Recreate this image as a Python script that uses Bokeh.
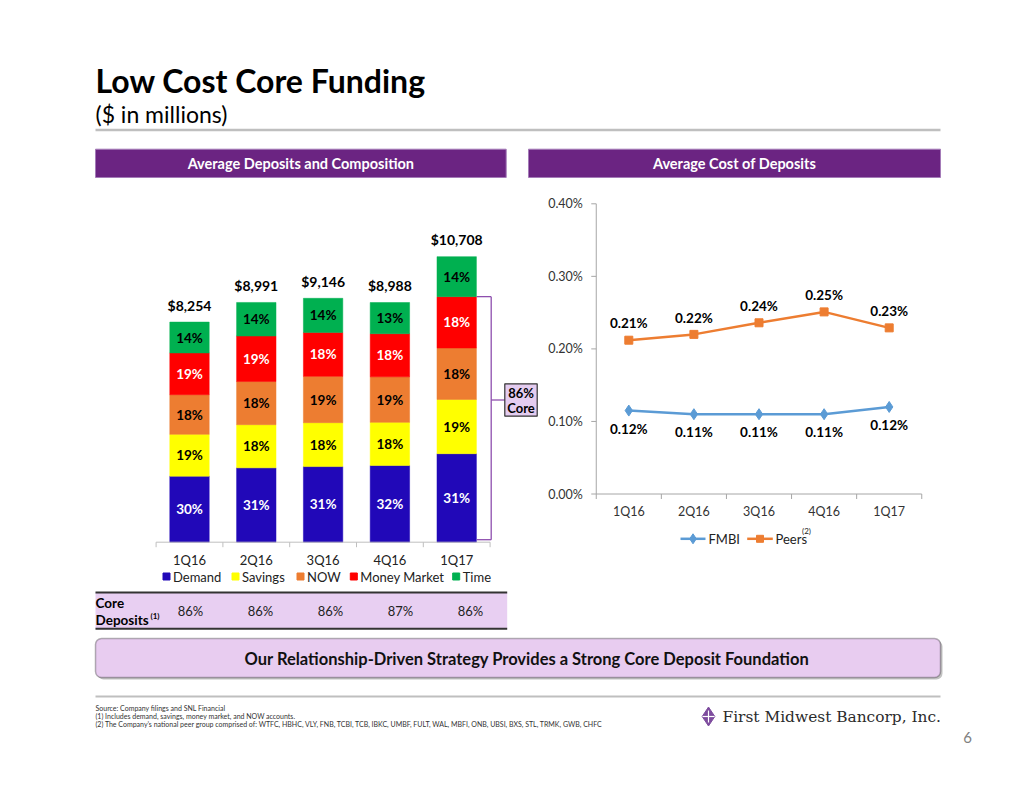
import numpy as np
from bokeh.plotting import figure
from bokeh.models import Range1d, ColumnDataSource, BoxAnnotation
from bokeh.core.properties import value
from bokeh.embed import file_html
from bokeh.resources import INLINE

# ---------------- data ----------------
quarters = ["1Q16", "2Q16", "3Q16", "4Q16", "1Q17"]
totals = [8254, 8991, 9146, 8988, 10708]
total_labels = ["$8,254", "$8,991", "$9,146", "$8,988", "$10,708"]
series = ["Demand", "Savings", "NOW", "Money Market", "Time"]
demand = [30, 31, 31, 32, 31]
savings = [19, 18, 18, 18, 19]
now = [18, 18, 19, 19, 18]
money_market = [19, 19, 18, 18, 18]
time_dep = [14, 14, 14, 13, 14]
core_deposits = ["86%", "86%", "86%", "87%", "86%"]
core_share_label = ["86%", "Core"]

fmbi = [0.115, 0.11, 0.11, 0.11, 0.12]
fmbi_labels = ["0.12%", "0.11%", "0.11%", "0.11%", "0.12%"]
peers = [0.212, 0.22, 0.236, 0.251, 0.229]
peers_labels = ["0.21%", "0.22%", "0.24%", "0.25%", "0.23%"]
y_ticks = [0.0, 0.1, 0.2, 0.3, 0.4]
y_tick_labels = ["0.00%", "0.10%", "0.20%", "0.30%", "0.40%"]

footnotes = [
    "Source: Company filings and SNL Financial",
    "(1) Includes demand, savings, money market, and NOW accounts.",
    "(2) The Company\u2019s national peer group comprised of: WTFC, HBHC, VLY, FNB, TCBI, TCB, IBKC, UMBF, FULT, WAL, MBFI, ONB, UBSI, BXS, STL, TRMK, GWB, CHFC",
]

# ---------------- styles ----------------
bar_colors = ["#2108B8", "#FFFF00", "#ED7D31", "#FF0000", "#00B050"]
seg_text_colors = ["white", "black", "black", "white", "black"]
FONT = value("Lato")
W, H = 1034, 799

p = figure(width=W, height=H, x_range=Range1d(0, W), y_range=Range1d(H, 0),
           x_axis_type=None, y_axis_type=None, output_backend="svg",
           toolbar_location=None, tools="", min_border=0)
p.outline_line_color = None
p.background_fill_color = "white"
p.border_fill_color = "white"


def txt(x, y, t, size, color="black", bold=False, align="left", baseline="middle",
        font=FONT, **kw):
    p.text(x=x, y=y, text=t, text_font=font, text_font_size=f"{size}px",
           text_color=color, text_font_style="bold" if bold else "normal",
           text_align=align, text_baseline=baseline, **kw)


# ---------------- page header ----------------
txt([95], [80], ["Low Cost Core Funding"], 32, bold=True, baseline="alphabetic")
txt([95], [113], ["($ in millions)"], 23, baseline="alphabetic")
p.segment(x0=[95], x1=[940], y0=[129.5], y1=[129.5], line_color="#BFBFBF", line_width=2.5)

p.quad(left=[95, 528], right=[505.7, 940], top=[148.7, 148.7], bottom=[177, 177],
       fill_color="#6B2482", line_color="#A47BB8", line_width=1)
txt([300.3, 734], [163, 163], ["Average Deposits and Composition", "Average Cost of Deposits"],
    14.5, color="white", bold=True, align="center")

# ---------------- stacked bar chart ----------------
BX0, BDX, BASE, K = 189.0, 66.8, 541.7, 37.5
p.extra_x_ranges["bx"] = Range1d(-BX0 / BDX, (W - BX0) / BDX)
p.extra_y_ranges["by"] = Range1d(-(H - BASE) * K, BASE * K)

shares = [demand, savings, now, money_market, time_dep]
xs = list(range(len(quarters)))
data = {"x": xs}
for name, sh in zip(series, shares):
    data[name] = [t * s / 100 for t, s in zip(totals, sh)]
src = ColumnDataSource(data)
p.vbar_stack(series, x="x", width=0.59, source=src, fill_color=bar_colors,
             line_color=bar_colors, line_width=0.5, x_range_name="bx", y_range_name="by")

sx, sy, st, sc = [], [], [], []
for i, t in enumerate(totals):
    cum = 0
    for j, sh in enumerate(shares):
        s = sh[i]
        sx.append(xs[i]); sy.append(t * (cum + s / 2) / 100)
        st.append(f"{s}%"); sc.append(seg_text_colors[j])
        cum += s
txt(sx, sy, st, 13.5, color=sc, bold=True, align="center", x_range_name="bx", y_range_name="by")
txt(xs, [t + 16.7 * K for t in totals], total_labels, 14, bold=True, align="center",
    x_range_name="bx", y_range_name="by")

# bar x axis
n = len(quarters)
p.segment(x0=[-0.5], x1=[n - 0.5], y0=[0], y1=[0], line_color="#BFBFBF", line_width=1,
          x_range_name="bx", y_range_name="by")
bt = [i - 0.5 for i in range(n + 1)]
p.segment(x0=bt, x1=bt, y0=[0] * len(bt), y1=[-5 * K] * len(bt), line_color="#BFBFBF",
          line_width=1, x_range_name="bx", y_range_name="by")
txt(xs, [-17.5 * K] * n, quarters, 13, color="#222222", align="center",
    x_range_name="bx", y_range_name="by")

# bar legend
leg_x = [166, 235, 300, 353.3, 455.7]
p.scatter(x=leg_x, y=[576] * 5, marker="square", size=7, fill_color=bar_colors,
          line_color=bar_colors)
txt([v + 6.5 for v in leg_x], [576] * 5, series, 13, color="#222222")

# core deposits table
p.quad(left=[95], right=[506.7], top=[592], bottom=[628.3], fill_color="#E8CFF2",
       line_color=None)
p.segment(x0=[95, 95], x1=[506.7, 506.7], y0=[592, 628.3], y1=[592, 628.3],
          line_color="#333333", line_width=2)
txt([95, 95], [602, 619], ["Core", "Deposits"], 13.5, bold=True)
txt([150], [615], ["(1)"], 8, bold=True)
txt(list(np.linspace(190, 470, n)), [610.7] * n, core_deposits, 13, color="#222222",
    align="center")

# bracket + 86% Core box
core_top = totals[-1] * sum(sh[-1] for sh in shares[:4]) / 100
br_x = (490.7 - BX0) / BDX
box_left = (504.3 - BX0) / BDX
mid_y = (BASE - 399.5) * K
bot_y = 2.5 * K
p.segment(x0=[xs[-1] + 0.3, br_x, br_x, br_x], x1=[br_x, br_x, xs[-1] + 0.3, box_left],
          y0=[core_top, core_top, bot_y, mid_y], y1=[core_top, bot_y, bot_y, mid_y],
          line_color="#8E4FAE", line_width=1.3, x_range_name="bx", y_range_name="by")
p.quad(left=[504.3], right=[536.7], top=[383.3], bottom=[415.7], fill_color="#E4CCF0",
       line_color="#333333", line_width=1.2)
txt([520.5, 520.5], [392, 407.5], core_share_label, 13, bold=True, align="center")

# ---------------- line chart ----------------
LX0, LDX, LBASE, LS = 628.3, 65.1, 493.5, 725.5
p.extra_x_ranges["lx"] = Range1d(-LX0 / LDX, (W - LX0) / LDX)
p.extra_y_ranges["ly"] = Range1d(-(H - LBASE) / LS, LBASE / LS)
axc = "#A6A6A6"
p.segment(x0=[-0.5, -0.5], x1=[-0.5, n - 0.5], y0=[0, 0], y1=[max(y_ticks), 0],
          line_color=axc, line_width=1, x_range_name="lx", y_range_name="ly")
p.segment(x0=[-0.5 - 5 / LDX] * len(y_ticks), x1=[-0.5] * len(y_ticks), y0=y_ticks,
          y1=y_ticks, line_color=axc, line_width=1, x_range_name="lx", y_range_name="ly")
txt([-0.5 - 13.4 / LDX] * len(y_ticks), y_ticks, y_tick_labels, 12.5, color="#333333",
    align="right", x_range_name="lx", y_range_name="ly")
p.segment(x0=bt, x1=bt, y0=[0] * len(bt), y1=[-5 / LS] * len(bt), line_color=axc,
          line_width=1, x_range_name="lx", y_range_name="ly")
txt(xs, [-17.2 / LS] * n, quarters, 12.5, color="#333333", align="center",
    x_range_name="lx", y_range_name="ly")

blue, orange = "#5B9BD5", "#ED7D31"
p.line(xs, fmbi, line_color=blue, line_width=2.5, x_range_name="lx", y_range_name="ly")
p.scatter(xs, fmbi, marker="diamond", size=11, fill_color=blue, line_color=blue,
          x_range_name="lx", y_range_name="ly")
p.line(xs, peers, line_color=orange, line_width=2.5, x_range_name="lx", y_range_name="ly")
p.scatter(xs, peers, marker="square", size=8, fill_color=orange, line_color=orange,
          x_range_name="lx", y_range_name="ly")
txt(xs, [v + 16.8 / LS for v in peers], peers_labels, 13.5, bold=True, align="center",
    x_range_name="lx", y_range_name="ly")
txt(xs, [v - 18 / LS for v in fmbi], fmbi_labels, 13.5, bold=True, align="center",
    x_range_name="lx", y_range_name="ly")

# line legend
p.segment(x0=[680, 746.7], x1=[705, 772.3], y0=[538.3, 538.3], y1=[538.3, 538.3],
          line_color=[blue, orange], line_width=2.5)
p.scatter(x=[692.5], y=[538.3], marker="diamond", size=10, fill_color=blue, line_color=blue)
p.scatter(x=[759.5], y=[538.3], marker="square", size=7, fill_color=orange, line_color=orange)
txt([708, 775], [538.3, 538.3], ["FMBI", "Peers"], 13, color="#222222")
txt([806], [530], ["(2)"], 8, color="#222222", align="center")

# ---------------- banner ----------------
p.add_layout(BoxAnnotation(left=97, right=942, top=640, bottom=679, fill_color="#9A9A9A",
                           fill_alpha=0.6, line_color=None, border_radius=6, level="underlay"))
p.add_layout(BoxAnnotation(left=95, right=940, top=638, bottom=677, fill_color="#E8CCF0",
                           fill_alpha=1, line_color="#111111", line_width=1.5,
                           border_radius=6, level="underlay"))
txt([526.5], [658], ["Our Relationship-Driven Strategy Provides a Strong Core Deposit Foundation"],
    16.5, color="#111111", bold=True, align="center")

# ---------------- footer ----------------
p.segment(x0=[95], x1=[940], y0=[696], y1=[696], line_color="#BFBFBF", line_width=2)
txt([95, 95, 95], [707, 715, 723], footnotes, 7.0, color="#333333")
p.scatter(x=[708], y=[716], marker="diamond", size=19, fill_color="#7E4C9E",
          line_color="#7E4C9E")
p.segment(x0=[702, 708], x1=[714, 708], y0=[716, 710], y1=[716, 722], line_color="white",
          line_width=1.2)
txt([722], [716], ["First Midwest Bancorp, Inc."], 15.4, color="#2b2b2b",
    font=value("DejaVu Serif"))
txt([967], [737], ["6"], 15, color="#808080", align="center")

open("out.html", "w").write(file_html(p, INLINE))
